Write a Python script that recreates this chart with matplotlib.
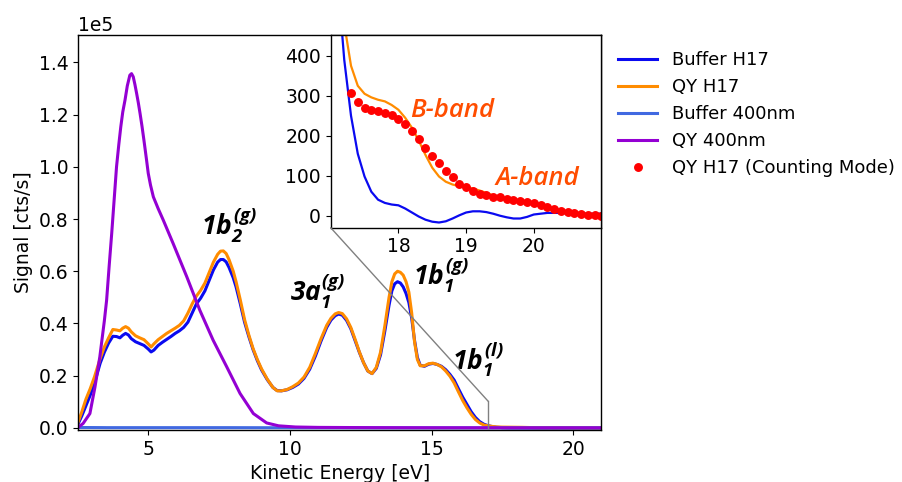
import matplotlib
matplotlib.use("Agg")
import matplotlib.pyplot as plt
from matplotlib.patches import ConnectionPatch
from matplotlib.ticker import MultipleLocator

plt.rcParams['font.family'] = ['DejaVu Sans']
plt.rcParams['font.size'] = 13.5
plt.rcParams['axes.linewidth'] = 1.0
plt.rcParams['mathtext.fontset'] = 'custom'
plt.rcParams['mathtext.rm'] = 'Open Sans:bold:italic'
plt.rcParams['mathtext.it'] = 'Open Sans:bold:italic'
plt.rcParams['mathtext.bf'] = 'Open Sans:bold:italic'

# ---------------- data ----------------
h17_energy = [2.5, 2.65, 2.8, 2.95, 3.1, 3.3, 3.45, 3.6, 3.75, 3.88, 4.0, 4.1, 4.2, 4.3, 4.4,
              4.55, 4.7, 4.85, 5.0, 5.1, 5.2, 5.35, 5.5, 5.65, 5.8, 5.95, 6.1, 6.25, 6.4, 6.55,
              6.7, 6.85, 7.0, 7.15, 7.3, 7.45, 7.55, 7.65, 7.75, 7.85, 8.0, 8.1, 8.25, 8.4, 8.55,
              8.7, 8.85, 9.0, 9.2, 9.4, 9.55, 9.7, 9.9, 10.1, 10.3, 10.5, 10.7, 10.9, 11.1, 11.3,
              11.45, 11.6, 11.72, 11.85, 12.0, 12.15, 12.3, 12.45, 12.6, 12.75, 12.9, 13.05, 13.2,
              13.35, 13.5, 13.6, 13.7, 13.8, 13.9, 14.0, 14.1, 14.2, 14.3, 14.4, 14.5, 14.6,
              14.75, 14.9, 15.05, 15.2, 15.35, 15.5, 15.65, 15.8, 15.95, 16.1, 16.25, 16.4, 16.55,
              16.7, 16.85, 17.0, 17.1, 17.2, 17.3, 17.4, 17.5, 17.6, 17.7, 17.8, 17.9, 18.0,
              18.1, 18.2, 18.3, 18.4, 18.5, 18.6, 18.7, 18.8, 18.9, 19.0, 19.1, 19.2, 19.3, 19.4,
              19.5, 19.6, 19.7, 19.8, 19.9, 20.0, 20.2, 20.4, 20.6, 20.8, 21.0]

buffer_h17 = [1000, 4500, 8500, 12500, 17000, 24700, 29000, 32500, 35100, 35000, 34500, 35500,
              36200, 35600, 34200, 33000, 32300, 31600, 30200, 29100, 29800, 31600, 32800, 33900,
              35000, 36200, 37200, 38500, 40500, 44000, 47500, 49700, 52500, 56500, 60500, 63500,
              64500, 64500, 63600, 61500, 57500, 54000, 47500, 40500, 35000, 30000, 25800, 22200,
              18500, 15500, 14300, 14200, 14600, 15500, 16800, 19000, 22500, 27500, 33300, 38500,
              41300, 43000, 43600, 43200, 41200, 38000, 33500, 29000, 25000, 21800, 20800, 22800,
              28000, 37000, 47000, 52500, 55200, 56000, 55500, 54000, 51500, 48000, 42000, 33500,
              27000, 24000, 23600, 24400, 24700, 24300, 23600, 22300, 20500, 18300, 15000, 11800,
              9000, 6200, 4000, 2400, 1400, 850, 600, 390, 250, 155, 98, 60, 40, 32, 28, 26, 18,
              8, -2, -10, -15, -17, -14, -7, 1, 8, 11, 11, 9, 5, 0, -4, -7, -7, -3, 3, 7, 7, 6,
              5, 5]

qy_h17 = [1500, 6000, 11000, 15000, 19500, 26500, 31000, 34500, 37700, 37500, 37200, 38200,
          38800, 38200, 36800, 35300, 34500, 33800, 32200, 31000, 32200, 33800, 35000, 36200,
          37200, 38200, 39300, 41000, 44000, 47500, 50500, 52700, 55500, 59500, 63500, 66500,
          67700, 67800, 66800, 64500, 60000, 56000, 49000, 41500, 35600, 30400, 26200, 22600,
          18700, 15500, 14200, 14200, 14700, 15800, 17200, 19500, 23200, 28500, 34200, 39300,
          42000, 43700, 44200, 43800, 41800, 38500, 34000, 29200, 25000, 21800, 20800, 23200,
          29000, 39000, 50000, 56000, 59000, 60000, 59600, 58500, 56000, 52000, 44000, 33000,
          26200, 23800, 23800, 24600, 24800, 24300, 23400, 21800, 19800, 17200, 13800, 10500,
          7700, 5200, 3200, 1900, 1100, 800, 620, 480, 375, 325, 305, 296, 290, 286, 277, 265,
          245, 220, 188, 152, 120, 98, 85, 78, 74, 72, 68, 63, 57, 51, 46, 42, 39, 36, 32, 28,
          18, 10, 5, 2, 1]

e400_energy = [2.5, 2.7, 2.94, 3.12, 3.29, 3.45, 3.53, 3.62, 3.71, 3.8, 3.88, 3.96, 4.03, 4.1,
               4.18, 4.26, 4.35, 4.41, 4.47, 4.53, 4.59, 4.65, 4.71, 4.78, 4.85, 4.94, 5.0, 5.08,
               5.18, 5.35, 5.53, 5.88, 6.36, 6.82, 7.29, 7.77, 8.24, 8.71, 9.18, 9.6, 10.2, 11.0,
               13.0, 15.0, 17.0, 19.0, 21.0]
qy_400 = [0, 1700, 5500, 15700, 27200, 41000, 48900, 62000, 74500, 88000, 100000, 108500,
          115300, 121000, 125600, 131000, 135100, 135700, 134500, 131500, 128100, 124500, 120500,
          115500, 110000, 102600, 97500, 93000, 88500, 84000, 79600, 70600, 57900, 45100,
          33600, 23400, 13200, 5500, 1900, 800, 350, 200, 100, 60, 40, 20, 10]
buffer_400 = [150, 150, 140, 130, 120, 110, 100, 100, 100, 100, 100, 100, 100, 100, 100, 100,
              100, 100, 100, 100, 100, 100, 100, 100, 100, 100, 100, 100, 100, 100, 100, 100,
              100, 100, 100, 100, 90, 80, 70, 60, 50, 40, 30, 20, 20, 10, 10]

count_energy = [17.3, 17.4, 17.5, 17.6, 17.7, 17.8, 17.9, 18.0, 18.1, 18.2, 18.3, 18.4, 18.5,
                18.6, 18.7, 18.8, 18.9, 19.0, 19.1, 19.2, 19.3, 19.4, 19.5, 19.6, 19.7, 19.8,
                19.9, 20.0, 20.1, 20.2, 20.3, 20.4, 20.5, 20.6, 20.7, 20.8, 20.9, 21.0]
qy_h17_counting = [308, 285, 269, 264, 263, 256, 252, 241, 229, 212, 191, 170, 150, 131, 113,
                   96, 80, 72, 61, 54, 51, 48, 46, 42, 40, 37, 34, 32, 27, 23, 17, 13, 9, 7, 4,
                   2, 1, 0]

peak_labels = [r'$1b_2^{(g)}$', r'$3a_1^{(g)}$', r'$1b_1^{(g)}$', r'$1b_1^{(l)}$']
peak_label_pos = [(6.85, 73600), (10.0, 48300), (14.35, 54400), (15.74, 22400)]

c_buf_h17 = '#0a0af0'
c_qy_h17 = '#ff8c00'
c_buf_400 = '#4169e1'
c_qy_400 = '#9400d3'

# ---------------- figure ----------------
fig = plt.figure(figsize=(9.03, 4.82), dpi=100)
ax = fig.add_axes([78 / 903, 1 - 430 / 482, (601.5 - 78) / 903, (430 - 35) / 482])

ax.plot(h17_energy, buffer_h17, color=c_buf_h17, lw=2.2, label='Buffer H17')
ax.plot(h17_energy, qy_h17, color=c_qy_h17, lw=2.2, label='QY H17')
ax.plot(e400_energy, buffer_400, color=c_buf_400, lw=2.2, label='Buffer 400nm')
ax.plot(e400_energy, qy_400, color=c_qy_400, lw=2.2, label='QY 400nm')

ax.set_xlim(2.52, 21.0)
ax.set_ylim(-800, 150500)
ax.xaxis.set_major_locator(MultipleLocator(5))
ax.yaxis.set_major_locator(MultipleLocator(20000))
ax.ticklabel_format(axis='y', style='sci', scilimits=(0, 0))
ax.set_xlabel('Kinetic Energy [eV]')
ax.set_ylabel('Signal [cts/s]')

for txt, (xx, yy) in zip(peak_labels, peak_label_pos):
    ax.text(xx, yy, txt, fontsize=19, ha='left', va='baseline', color='black')

# ---------------- inset ----------------
axin = fig.add_axes([330.7 / 903, 1 - 227.7 / 482, (601.5 - 330.7) / 903, (227.7 - 35) / 482])
axin.plot(h17_energy, buffer_h17, color=c_buf_h17, lw=1.6)
axin.plot(h17_energy, qy_h17, color=c_qy_h17, lw=1.6)
pts, = axin.plot(count_energy, qy_h17_counting, 'o', color='red', ms=5.4, ls='none',
                 label='QY H17 (Counting Mode)')
axin.set_xlim(17, 21)
axin.set_ylim(-30, 452)
axin.set_xticks([18, 19, 20])
axin.set_yticks([0, 100, 200, 300, 400])

band_font = dict(family='Open Sans', style='italic', weight='semibold', fontsize=18.5,
                 color='#ff4d00')
axin.text(18.18, 246, 'B-band', ha='left', va='baseline', **band_font)
axin.text(19.44, 77, 'A-band', ha='left', va='baseline', **band_font)

# zoom indicator lines
con = ConnectionPatch(xyA=(0, 0), coordsA=axin.transAxes, xyB=(17, 10200), coordsB=ax.transData,
                      color='0.5', lw=1.0)
fig.add_artist(con)
ax.plot([17, 17], [0, 10200], color='0.5', lw=1.0)

handles, labels = ax.get_legend_handles_labels()
handles.append(pts)
labels.append('QY H17 (Counting Mode)')
ax.legend(handles, labels, loc='upper left', bbox_to_anchor=(1.0, 1.0), frameon=False,
          fontsize=13.0, handlelength=2.2)

fig.savefig('out.png', dpi=100)
